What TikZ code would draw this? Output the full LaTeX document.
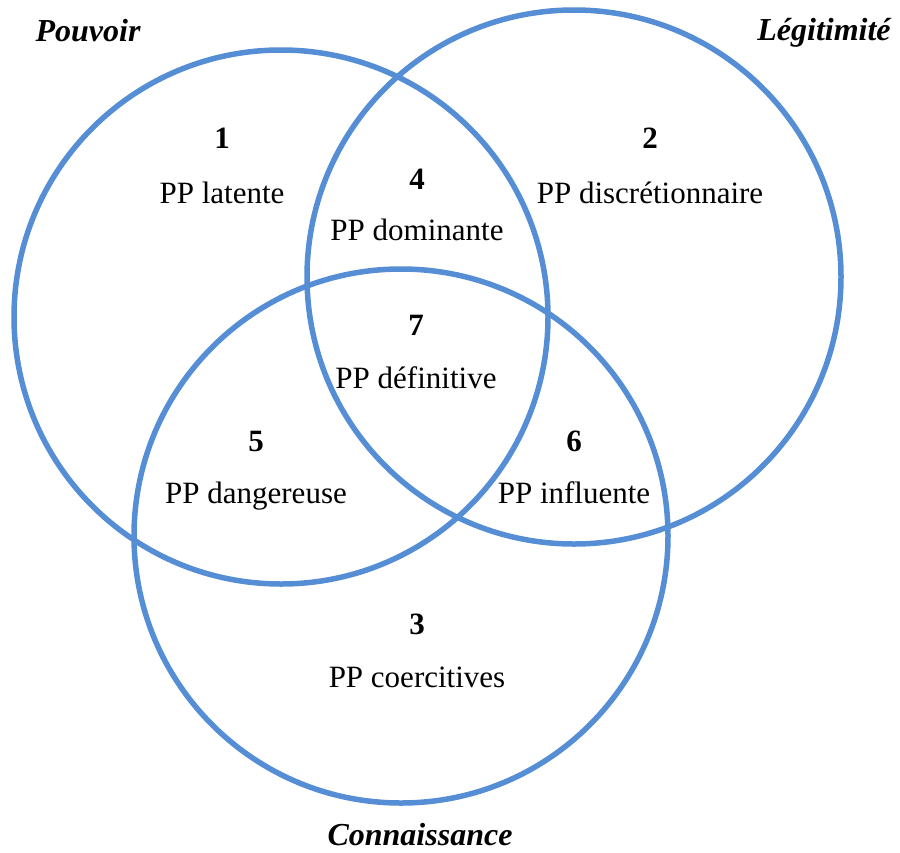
\documentclass[tikz,border=0pt]{standalone}
\usepackage{fontspec}
\setmainfont{Liberation Serif}
\definecolor{vennblue}{RGB}{85,142,213}
\begin{document}
\begin{tikzpicture}[x=1pt,y=-1pt,
  ring/.style={draw=vennblue,line width=5.5pt},
  num/.style={anchor=base,font=\fontsize{31}{36}\selectfont\bfseries,inner sep=0pt},
  lbl/.style={anchor=base,font=\fontsize{31}{36}\selectfont,inner sep=0pt},
  ttl/.style={anchor=base,font=\fontsize{32}{38}\selectfont\bfseries\itshape,inner sep=0pt}]
\useasboundingbox (0,0) rectangle (900,852);
\draw[ring] (281,317) circle[radius=267];
\draw[ring] (574,277) circle[radius=267];
\draw[ring] (401,536) circle[radius=267];
\node[ttl] (tP) at (88,41) {Pouvoir};
\node[ttl] (tL) at (824,40) {Légitimité};
\node[ttl] (tC) at (420,845) {Connaissance};
\node[num] (n1) at (222,148) {1};
\node[lbl] (l1) at (222,203) {PP latente};
\node[num] (n2) at (650,148) {2};
\node[lbl] (l2) at (650,203) {PP discrétionnaire};
\node[num] (n4) at (417,189) {4};
\node[lbl] (l4) at (417,240) {PP dominante};
\node[num] (n7) at (416,335) {7};
\node[lbl] (l7) at (416,388) {PP définitive};
\node[num] (n5) at (256,451) {5};
\node[lbl] (l5) at (256,503) {PP dangereuse};
\node[num] (n6) at (574,451) {6};
\node[lbl] (l6) at (574,503) {PP influente};
\node[num] (n3) at (417,634) {3};
\node[lbl] (l3) at (417,687) {PP coercitives};
\end{tikzpicture}
\end{document}
